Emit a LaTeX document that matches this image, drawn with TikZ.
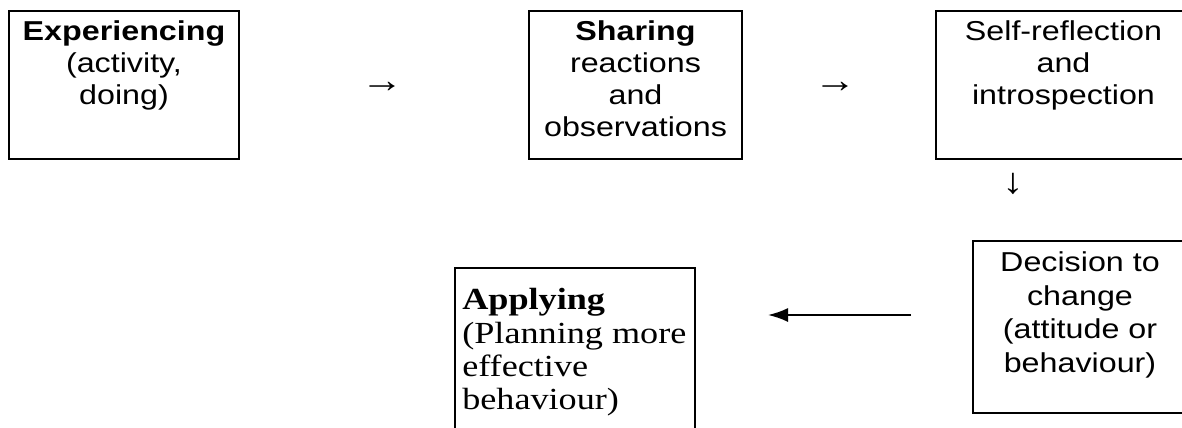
\documentclass[tikz,border=0pt]{standalone}
\usepackage{fontspec}
\usepackage{graphicx}
\setmainfont{Liberation Serif}
\newfontfamily\arialfont{Liberation Sans}
\usetikzlibrary{arrows.meta, positioning}

% the reference text is stretched sideways
\newcommand{\stretchtext}[2]{\scalebox{1.18}[1]{\parbox{#1}{#2}}}

\begin{document}
\begin{tikzpicture}[x=0.75pt, y=-0.75pt, >=Latex,
  stagebox/.style={draw, line width=1.5pt, inner sep=0pt, anchor=north west},
  sanstext/.style={inner sep=0pt, font=\arialfont\fontsize{20.5}{24}\selectfont},
  serftext/.style={inner sep=0pt, font=\fontsize{23}{25}\selectfont},
  textarrow/.style={inner sep=0pt, font=\arialfont\fontsize{27}{30}\selectfont}]

\useasboundingbox (0,0) rectangle (1182,428);

% Top row boxes
\node[stagebox, minimum width=172.5pt, minimum height=111pt] at (8,10) (exp) {};
\node[stagebox, minimum width=159.75pt, minimum height=111pt] at (528,10) (share) {};
\node[stagebox, minimum width=191.25pt, minimum height=111pt] at (935,10) (reflect) {};

% Bottom row boxes
\node[stagebox, minimum width=160.5pt, minimum height=129pt] at (972,240) (decide) {};
\node[stagebox, minimum width=180pt, minimum height=135pt] at (454,267) (apply) {};

% Box texts
\node[sanstext, anchor=north, below=8pt of exp.north] (exp_txt)
  {\stretchtext{140pt}{\centering\textbf{Experiencing}\\(activity,\\doing)}};
\node[sanstext, anchor=north, below=8pt of share.north] (share_txt)
  {\stretchtext{130pt}{\centering\textbf{Sharing}\\reactions\\and\\observations}};
\node[sanstext, anchor=north, below=8pt of reflect.north] (reflect_txt)
  {\stretchtext{150pt}{\centering Self-reflection\\and\\introspection}};
\node[sanstext, anchor=north, below=8.5pt of decide.north] (decide_txt)
  {\stretchtext{130pt}{\centering\fontsize{20.5}{25.3}\selectfont Decision to\\change\\(attitude or\\behaviour)}};
\node[serftext, anchor=north west] at ([xshift=6pt, yshift=-16pt]apply.north west) (apply_txt)
  {\stretchtext{145pt}{\raggedright\textbf{Applying}\\(Planning more\\effective\\behaviour)}};

% Text arrows
\node[textarrow] at (382,87) (arr1) {\scalebox{1.18}[1]{→}};
\node[textarrow] at (835,87) (arr2) {\scalebox{1.18}[1]{→}};
\node[textarrow] at (1013,184) (arr3) {\scalebox{1.18}[1]{↓}};

% Drawn arrow
\coordinate (arrowrow) at (0,315);
\draw[-{Latex[length=15pt, width=10.5pt]}, line width=1.5pt, shorten <=45.75pt, shorten >=54pt]
  (decide.west |- arrowrow) -- (apply.east |- arrowrow);

\end{tikzpicture}
\end{document}
